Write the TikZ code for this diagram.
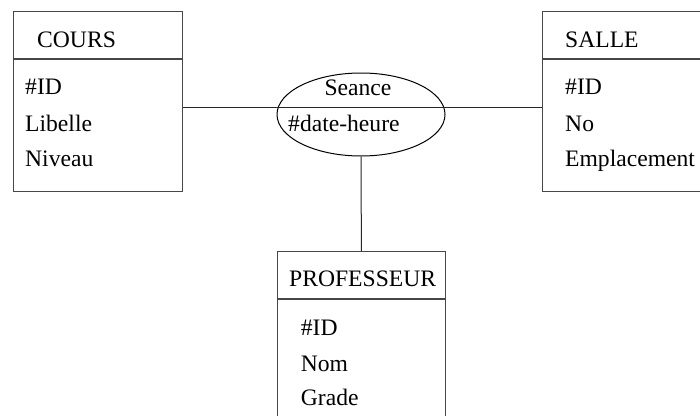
\documentclass[tikz,border=0pt]{standalone}
\usepackage{fontspec}
\setmainfont{Liberation Serif}
\usetikzlibrary{shapes.geometric}
\begin{document}
\begin{tikzpicture}[x=1pt,y=-1pt,
  every node/.style={font=\fontsize{23.6}{28}\selectfont},
  entity/.style={draw=black!72,line width=1.1pt,rectangle,inner sep=0pt,anchor=north west},
  rule/.style={draw=black!72,line width=1.1pt},
  label/.style={anchor=base west,inner sep=0pt},
  link/.style={draw=black!85,line width=1pt}]
\useasboundingbox (0,0) rectangle (700,415);
\clip (0,0) rectangle (700,415);

% entity boxes
\node[entity,minimum width=168.5pt,minimum height=179.5pt] (cours) at (13,11) {};
\node[entity,minimum width=220pt,minimum height=179.5pt] (salle) at (541.7,11) {};
\node[entity,minimum width=168.3pt,minimum height=220pt] (prof) at (276.7,251) {};

% header separators
\draw[rule] (cours.west |- 0,59) -- (cours.east |- 0,59);
\draw[rule] (salle.west |- 0,59) -- (salle.east |- 0,59);
\draw[rule] (prof.west |- 0,299) -- (prof.east |- 0,299);

% association
\node[draw=black,line width=1pt,ellipse,minimum width=168pt,minimum height=83pt,inner sep=0pt] (seance) at (361,114.5) {};
\coordinate (mid) at (361,107);
\draw[link] (mid -| cours.east) -- (mid -| salle.west);
\draw[link] (seance.south) -- (prof.north);

% COURS
\node[label] (cn) at (37,47) {COURS};
\node[label] (c1) at (25,94.3) {\#ID};
\node[label] (c2) at (25,131.3) {Libelle};
\node[label] (c3) at (25,166) {Niveau};

% SALLE
\node[label] (sn) at (565,47) {SALLE};
\node[label] (s1) at (565,94.3) {\#ID};
\node[label] (s2) at (565,131.3) {No};
\node[label] (s3) at (565,166) {Emplacement};

% Seance
\node[anchor=base,inner sep=0pt] (an) at (358,95) {Seance};
\node[label] (a1) at (288,131.7) {\#date-heure};

% PROFESSEUR
\node[label] (pn) at (289,286.7) {PROFESSEUR};
\node[label] (p1) at (300.7,335) {\#ID};
\node[label] (p2) at (300.7,371.7) {Nom};
\node[label] (p3) at (300.7,405.7) {Grade};
\end{tikzpicture}
\end{document}
